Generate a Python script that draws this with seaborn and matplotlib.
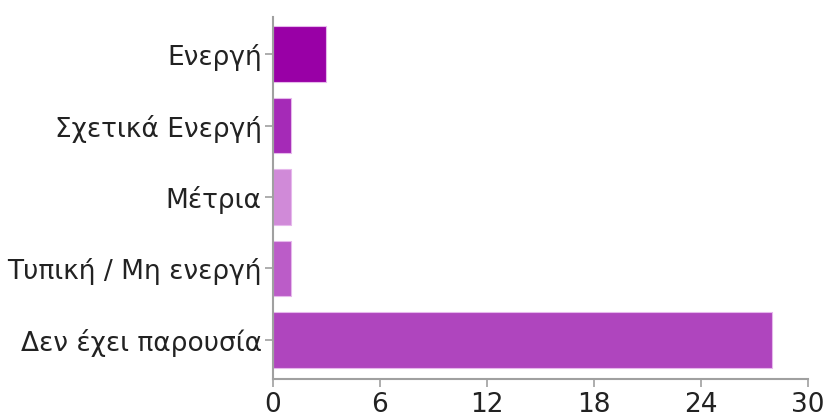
import matplotlib
matplotlib.use("Agg")
import matplotlib.pyplot as plt
import seaborn as sns
import pandas as pd

categories = ["Ενεργή", "Σχετικά Ενεργή", "Μέτρια", "Τυπική / Μη ενεργή", "Δεν έχει παρουσία"]
values = [3, 1, 1, 1, 28]
colors = ["#9900A6", "#A52AB7", "#D08AD8", "#BB5CC8", "#AF45BE"]
xticks = [0, 6, 12, 18, 24, 30]

sns.set_theme(style="white")
plt.rcParams["font.family"] = ["DejaVu Sans"]

df = pd.DataFrame({"cat": categories, "val": values})

fig = plt.figure(figsize=(8.27, 4.17), dpi=100)
ax = fig.add_axes([0.330, 0.091, 0.647, 0.868])
sns.barplot(data=df, x="val", y="cat", hue="cat", palette=colors, legend=False,
            width=0.78, ax=ax, orient="h", saturation=1,
            edgecolor="#e6b8ec", linewidth=0.8)

ax.set_xlim(0, 30)
ax.set_ylim(4.55, -0.52)
ax.set_xticks(xticks)
ax.set_xticklabels([str(t) for t in xticks])
ax.set_xlabel("")
ax.set_ylabel("")
for s in ["top", "right"]:
    ax.spines[s].set_visible(False)
for s in ["left", "bottom"]:
    ax.spines[s].set_color("#a0a0a0")
    ax.spines[s].set_linewidth(1.5)
ax.tick_params(axis="both", which="both", colors="#a0a0a0", length=6, width=1.2,
               labelsize=19, labelcolor="#222222")
ax.tick_params(axis="y", left=True, pad=2)
ax.tick_params(axis="x", bottom=True, pad=3)
ax.grid(False)

fig.savefig("out.png", dpi=100)
